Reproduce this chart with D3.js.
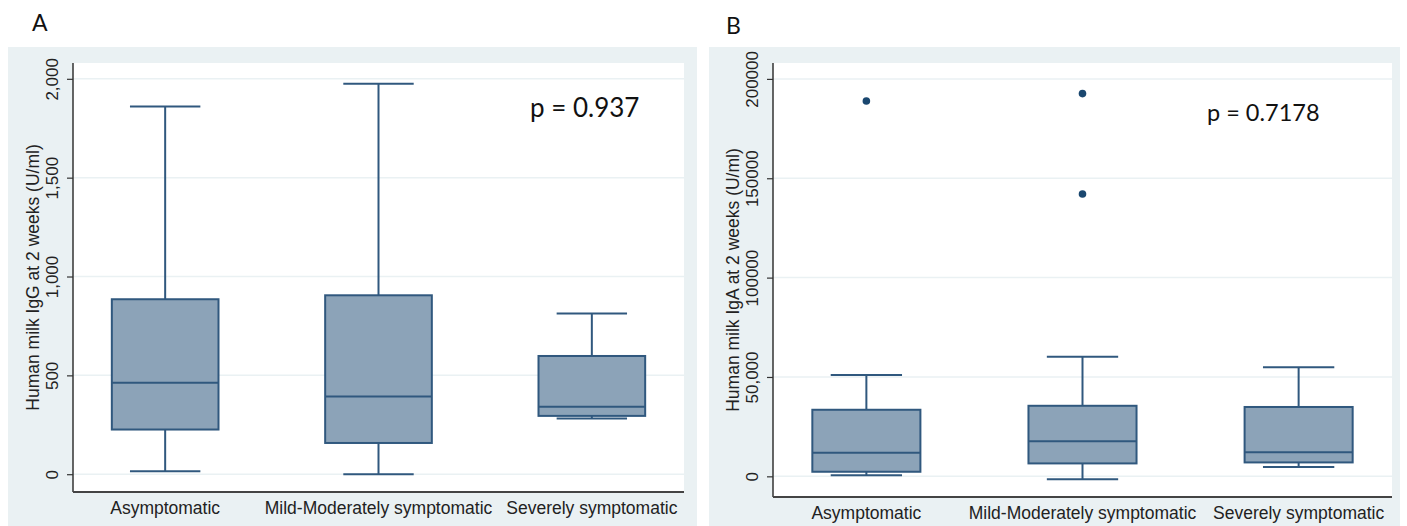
<!DOCTYPE html>
<html>
<head>
<meta charset="utf-8">
<script src="https://cdn.jsdelivr.net/npm/d3@7"></script>
<style>
  body { margin: 0; background: #fff; }
  svg { display: block; }
</style>
</head>
<body>
<div id="chart"></div>
<script>
// Categories shared by both panels.
const groups = ['Asymptomatic', 'Mild-Moderately symptomatic', 'Severely symptomatic'];

// Panel A: human milk IgG (U/ml).
const iggLow = [15, 0, 282];
const iggQ1 = [226, 158, 295];
const iggMedian = [462, 393, 341];
const iggQ3 = [885, 905, 598];
const iggHigh = [1860, 1975, 813];
const iggOutliers = [[], [], []];
const iggTicks = [0, 500, 1000, 1500, 2000];
const iggTickLabels = ['0', '500', '1,000', '1,500', '2,000'];

// Panel B: human milk IgA (U/ml).
const igaLow = [500, -1500, 4700];
const igaQ1 = [2300, 6500, 7000];
const igaMedian = [11900, 17600, 12100];
const igaQ3 = [33500, 35500, 34900];
const igaHigh = [51000, 60200, 54900];
const igaOutliers = [[188900], [192600, 142100], []];
const igaTicks = [0, 50000, 100000, 150000, 200000];
const igaTickLabels = ['0', '50,000', '100000', '150000', '200000'];

const width = 1407, height = 526;
const bgColor = '#eaf1f3';
const gridColor = '#eaf1f3';
const boxFill = '#8ca3b8';
const boxStroke = '#30587e';
const dotColor = '#1a476f';
const sans = '"Liberation Sans", Arial, sans-serif';
const humanist = 'Lato, "Open Sans", sans-serif';

const svg = d3.select('#chart')
    .append('svg')
    .attr('width', width)
    .attr('height', height);

function drawPanel(p) {
    const g = svg.append('g');

    // Outer light background.
    g.append('rect')
        .attr('x', p.bg.left).attr('y', p.bg.top)
        .attr('width', p.bg.right - p.bg.left)
        .attr('height', p.bg.bottom - p.bg.top)
        .attr('fill', bgColor);

    // White plot region.
    g.append('rect')
        .attr('x', p.plot.left).attr('y', p.plot.top)
        .attr('width', p.plot.right - p.plot.left)
        .attr('height', p.plot.bottom - p.plot.top)
        .attr('fill', '#fff');

    const x = d3.scalePoint().domain(groups).range([p.plot.left, p.plot.right]).padding(0.432);
    const y = d3.scaleLinear().domain(p.domain).range([p.plot.bottom, p.plot.top]);
    const boxW = x.step() * 0.5;
    const capW = boxW * 0.66;

    // Grid lines.
    g.selectAll('.grid')
        .data(p.ticks)
        .enter()
        .append('line')
            .attr('x1', p.plot.left).attr('x2', p.plot.right)
            .attr('y1', d => y(d)).attr('y2', d => y(d))
            .attr('stroke', gridColor)
            .attr('stroke-width', 1.5);

    // Y axis.
    const yAxis = g.append('g')
        .attr('transform', `translate(${p.plot.left},0)`)
        .call(d3.axisLeft(y).tickValues(p.ticks).tickSize(6).tickFormat((d, i) => p.tickLabels[i]));
    yAxis.select('.domain').remove();
    yAxis.selectAll('.tick line').attr('stroke', '#333').attr('stroke-width', 1.2);
    yAxis.selectAll('.tick text')
        .attr('x', null).attr('dy', null)
        .attr('transform', 'translate(-21,0) rotate(-90)')
        .attr('dy', '0.35em')
        .attr('text-anchor', 'middle')
        .style('font-family', sans)
        .style('font-size', '17px')
        .attr('fill', '#222');

    // Axis lines.
    g.append('line')
        .attr('x1', p.plot.left).attr('x2', p.plot.left)
        .attr('y1', p.plot.top).attr('y2', p.plot.bottom)
        .attr('stroke', '#333').attr('stroke-width', 1.5);
    g.append('line')
        .attr('x1', p.plot.left).attr('x2', p.plot.right)
        .attr('y1', p.plot.bottom).attr('y2', p.plot.bottom)
        .attr('stroke', '#444').attr('stroke-width', 2);

    // Category labels.
    g.selectAll('.xlabel')
        .data(groups)
        .enter()
        .append('text')
            .attr('x', d => x(d))
            .attr('y', p.plot.bottom + 22)
            .attr('text-anchor', 'middle')
            .style('font-family', sans)
            .style('font-size', '17.5px')
            .attr('fill', '#222')
            .text(d => d);

    // Y axis title.
    g.append('text')
        .attr('transform', `translate(${p.titleX},${(p.plot.top + p.plot.bottom) / 2}) rotate(-90)`)
        .attr('dy', '0.35em')
        .attr('text-anchor', 'middle')
        .style('font-family', sans)
        .style('font-size', '17.5px')
        .attr('fill', '#222')
        .text(p.title);

    const data = groups.map((name, i) => ({
        name, low: p.low[i], q1: p.q1[i], median: p.median[i], q3: p.q3[i], high: p.high[i], outliers: p.outliers[i]
    }));

    const box = g.selectAll('.box').data(data).enter().append('g');

    // Whiskers.
    box.append('line')
        .attr('x1', d => x(d.name)).attr('x2', d => x(d.name))
        .attr('y1', d => y(d.high)).attr('y2', d => y(d.q3))
        .attr('stroke', boxStroke).attr('stroke-width', 2);
    box.append('line')
        .attr('x1', d => x(d.name)).attr('x2', d => x(d.name))
        .attr('y1', d => y(d.q1)).attr('y2', d => y(d.low))
        .attr('stroke', boxStroke).attr('stroke-width', 2);
    box.selectAll('.cap')
        .data(d => [d.high, d.low].map(v => ({ name: d.name, v })))
        .enter()
        .append('line')
            .attr('x1', d => x(d.name) - capW / 2).attr('x2', d => x(d.name) + capW / 2)
            .attr('y1', d => y(d.v)).attr('y2', d => y(d.v))
            .attr('stroke', boxStroke).attr('stroke-width', 2);

    // Boxes and medians.
    box.append('rect')
        .attr('x', d => x(d.name) - boxW / 2)
        .attr('y', d => y(d.q3))
        .attr('width', boxW)
        .attr('height', d => y(d.q1) - y(d.q3))
        .attr('fill', boxFill)
        .attr('stroke', boxStroke)
        .attr('stroke-width', 2);
    box.append('line')
        .attr('x1', d => x(d.name) - boxW / 2).attr('x2', d => x(d.name) + boxW / 2)
        .attr('y1', d => y(d.median)).attr('y2', d => y(d.median))
        .attr('stroke', boxStroke).attr('stroke-width', 2);

    // Outside values.
    box.selectAll('.dot')
        .data(d => d.outliers.map(v => ({ name: d.name, v })))
        .enter()
        .append('circle')
            .attr('cx', d => x(d.name))
            .attr('cy', d => y(d.v))
            .attr('r', 3.8)
            .attr('fill', dotColor);

    // p value and panel letter.
    g.append('text')
        .attr('x', p.pX).attr('y', p.pY)
        .style('font-family', humanist)
        .style('font-size', p.pSize)
        .attr('fill', '#111')
        .text(p.pText);
    g.append('text')
        .attr('x', p.letterX).attr('y', p.letterY)
        .style('font-family', humanist)
        .style('font-size', '23px')
        .attr('fill', '#111')
        .text(p.letter);
}

drawPanel({
    letter: 'A', letterX: 32, letterY: 31,
    bg: { left: 8, right: 697, top: 47, bottom: 526 },
    plot: { left: 73, right: 684, top: 63, bottom: 492 },
    domain: [-90, 2080],
    ticks: iggTicks, tickLabels: iggTickLabels,
    low: iggLow, q1: iggQ1, median: iggMedian, q3: iggQ3, high: iggHigh, outliers: iggOutliers,
    title: 'Human milk IgG at 2 weeks (U/ml)', titleX: 33,
    pText: 'p = 0.937', pX: 530, pY: 117, pSize: '26px'
});

drawPanel({
    letter: 'B', letterX: 726, letterY: 34,
    bg: { left: 709, right: 1400, top: 47, bottom: 526 },
    plot: { left: 773, right: 1392, top: 63, bottom: 497 },
    domain: [-10400, 208000],
    ticks: igaTicks, tickLabels: igaTickLabels,
    low: igaLow, q1: igaQ1, median: igaMedian, q3: igaQ3, high: igaHigh, outliers: igaOutliers,
    title: 'Human milk IgA at 2 weeks (U/ml)', titleX: 733,
    pText: 'p = 0.7178', pX: 1207, pY: 121, pSize: '23.5px'
});
</script>
</body>
</html>
